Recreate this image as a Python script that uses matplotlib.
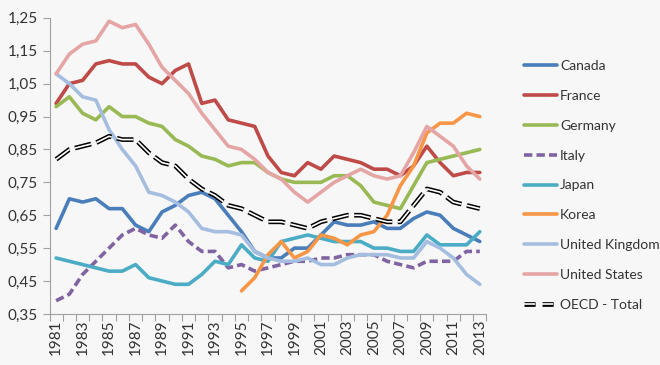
import numpy as np
import matplotlib.pyplot as plt

plt.rcParams['font.family'] = ['Lato', 'DejaVu Sans']
plt.rcParams['lines.scale_dashes'] = False

years = np.arange(1981, 2014)

canada = [0.61, 0.70, 0.69, 0.70, 0.67, 0.67, 0.62, 0.60, 0.66, 0.68, 0.71, 0.72, 0.70, 0.65, 0.60, 0.54, 0.52,
          0.52, 0.55, 0.55, 0.59, 0.63, 0.62, 0.62, 0.63, 0.61, 0.61, 0.64, 0.66, 0.65, 0.61, 0.59, 0.57]
france = [0.99, 1.05, 1.06, 1.11, 1.12, 1.11, 1.11, 1.07, 1.05, 1.09, 1.11, 0.99, 1.00, 0.94, 0.93, 0.92, 0.83,
          0.78, 0.77, 0.81, 0.79, 0.83, 0.82, 0.81, 0.79, 0.79, 0.77, 0.80, 0.86, 0.81, 0.77, 0.78, 0.78]
germany = [0.98, 1.01, 0.96, 0.94, 0.98, 0.95, 0.95, 0.93, 0.92, 0.88, 0.86, 0.83, 0.82, 0.80, 0.81, 0.81, 0.78,
           0.76, 0.75, 0.75, 0.75, 0.77, 0.77, 0.74, 0.69, 0.68, 0.67, 0.74, 0.81, 0.82, 0.83, 0.84, 0.85]
italy = [0.39, 0.41, 0.47, 0.51, 0.55, 0.59, 0.61, 0.59, 0.58, 0.62, 0.57, 0.54, 0.54, 0.49, 0.50, 0.48, 0.49,
         0.50, 0.51, 0.51, 0.52, 0.52, 0.53, 0.53, 0.53, 0.51, 0.50, 0.49, 0.51, 0.51, 0.51, 0.54, 0.54]
japan = [0.52, 0.51, 0.50, 0.49, 0.48, 0.48, 0.50, 0.46, 0.45, 0.44, 0.44, 0.47, 0.51, 0.50, 0.56, 0.52, 0.51,
         0.57, 0.58, 0.59, 0.58, 0.57, 0.57, 0.57, 0.55, 0.55, 0.54, 0.54, 0.59, 0.56, 0.56, 0.56, 0.60]
korea = [np.nan] * 14 + [0.42, 0.46, 0.53, 0.57, 0.52, 0.54, 0.59, 0.58, 0.56, 0.59, 0.60, 0.65, 0.74, 0.80,
                         0.90, 0.93, 0.93, 0.96, 0.95]
uk = [1.08, 1.05, 1.01, 1.00, 0.91, 0.85, 0.80, 0.72, 0.71, 0.69, 0.66, 0.61, 0.60, 0.60, 0.59, 0.54, 0.52,
      0.51, 0.51, 0.52, 0.50, 0.50, 0.52, 0.53, 0.53, 0.53, 0.52, 0.52, 0.57, 0.55, 0.52, 0.47, 0.44]
us = [1.08, 1.14, 1.17, 1.18, 1.24, 1.22, 1.23, 1.17, 1.10, 1.06, 1.02, 0.96, 0.91, 0.86, 0.85, 0.82, 0.78,
      0.76, 0.72, 0.69, 0.72, 0.75, 0.77, 0.79, 0.77, 0.76, 0.77, 0.84, 0.92, 0.89, 0.86, 0.80, 0.76]
oecd = [0.82, 0.85, 0.86, 0.87, 0.89, 0.88, 0.88, 0.84, 0.81, 0.80, 0.76, 0.73, 0.71, 0.68, 0.67, 0.65, 0.63,
        0.63, 0.62, 0.61, 0.63, 0.64, 0.65, 0.65, 0.64, 0.63, 0.63, 0.68, 0.73, 0.72, 0.69, 0.68, 0.67]

series = [
    ("Canada", canada, "#4A7EBB", "-"),
    ("France", france, "#BE4B48", "-"),
    ("Germany", germany, "#98B954", "-"),
    ("Italy", italy, "#8064A2", (0, (6, 3))),
    ("Japan", japan, "#4BACC6", "-"),
    ("Korea", korea, "#F79646", "-"),
    ("United Kingdom", uk, "#A5BEDF", "-"),
    ("United States", us, "#E6A5A5", "-"),
]

bg = "#F7F7F7"
fig = plt.figure(figsize=(6.6, 3.65), dpi=100, facecolor=bg)
ax = fig.add_axes([0.075, 0.14, 0.662, 0.811], facecolor=bg)

handles = []
for name, vals, color, ls in series:
    h, = ax.plot(years, vals, color=color, lw=2.6, ls=ls, label=name, solid_capstyle='round')
    handles.append(h)

# OECD: black dashed with white core (double line)
ax.plot(years, oecd, color="black", lw=3.4, ls=(0, (12, 4)))
ax.plot(years, oecd, color="white", lw=1.2, ls=(0, (12, 4)))
oecd_h = plt.Line2D([], [], color="black", lw=3.4, ls=(0, (8, 5)))
oecd_w = plt.Line2D([], [], color="white", lw=1.2, ls=(0, (8, 5)))
handles.append((oecd_h, oecd_w))

ax.set_xlim(1980.5, 2013.5)
ax.set_ylim(0.35, 1.25)
yt = np.arange(0.35, 1.26, 0.1)
ax.set_yticks(yt)
ax.set_yticklabels([f"{v:.2f}".replace(".", ",") for v in yt])
ax.set_xticks(np.arange(1980.5, 2014, 1))
ax.set_xticklabels([])
ax.set_xticks(years[::2], minor=True)
ax.set_xticklabels([str(y) for y in years[::2]], minor=True, rotation=90)
ax.tick_params(axis='x', which='minor', length=0, pad=4)
ax.tick_params(axis='x', which='major', length=5, color="#A0A0A0")
ax.tick_params(axis='y', length=5, color="#A0A0A0")
ax.tick_params(labelsize=11, labelcolor="#333333")
ax.tick_params(axis='x', which='minor', labelsize=11, labelcolor="#333333")

for s in ["top", "right"]:
    ax.spines[s].set_visible(False)
for s in ["left", "bottom"]:
    ax.spines[s].set_color("#A0A0A0")

fig.legend(handles, [s[0] for s in series] + ["OECD - Total"], loc="upper left",
           bbox_to_anchor=(0.775, 0.869), frameon=False, fontsize=10, handlelength=2.4,
           labelspacing=1.28, handletextpad=0.2, labelcolor="#333333")

fig.savefig("out.png", dpi=100, facecolor=bg)
